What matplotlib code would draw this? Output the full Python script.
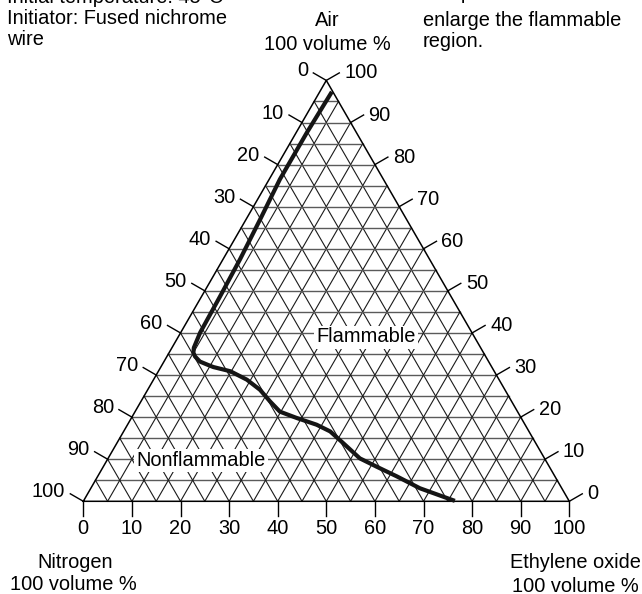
import numpy as np
import matplotlib.pyplot as plt

plt.rcParams['font.family'] = ['Liberation Sans', 'DejaVu Sans']
fs = 14.4

# Grenzkurve: Ethylenoxid %, Luft %
eo_curve = [2.5, 2.2, 2.2, 2.9, 3.5, 3.8, 4.0, 4.5, 5.0, 5.8, 7.4, 9.2, 10.8, 14.8,
            19.2, 23.1, 26.6, 29.8, 34.0, 38.9, 42.5, 46.6, 51.8, 56.3, 61.6, 67.7, 76.4]
air_curve = [97.3, 87.6, 76.5, 67.0, 57.5, 48.7, 40.1, 36.5, 35.3, 34.4, 33.2, 32.5, 31.9, 30.9,
             28.9, 26.5, 23.7, 21.3, 19.8, 18.2, 16.6, 13.8, 10.2, 8.2, 5.9, 3.1, 0.1]

tick_vals = [0, 10, 20, 30, 40, 50, 60, 70, 80, 90, 100]
grid_vals = np.arange(5, 100, 5)

left_text = ["Initial temperature: 45\u00b0C", "Initiator: Fused nichrome", "wire"]
right_text = ["Temp", "enlarge the flammable", "region."]


def xy(eo, air):
    eo = np.asarray(eo, dtype=float)
    air = np.asarray(air, dtype=float)
    return eo + air / 2, air * np.sqrt(3) / 2


W, H = 642, 594
fig = plt.figure(figsize=(W / 100, H / 100), dpi=100)
ax = fig.add_axes([0, 0, 1, 1])
# 4.86 px pro Einheit, Ecke links unten bei (83.3, 501.3) px
s = 4.86
ax.set_xlim(-83.3 / s, (W - 83.3) / s)
ax.set_ylim(-(H - 501.3) / s, 501.3 / s)
ax.axis('off')

# Gitter
for v in grid_vals:
    x, y = xy([0, 100 - v], [v, v])
    ax.plot(x, y, color='#5a5a5a', lw=1.0, zorder=1)
    x, y = xy([v, v], [0, 100 - v])
    ax.plot(x, y, color='#1a1a1a', lw=0.8, zorder=1)
    x, y = xy([100 - v, 0], [0, 100 - v])
    ax.plot(x, y, color='#1a1a1a', lw=0.8, zorder=1)

# Rand
x, y = xy([0, 100, 0, 0], [0, 0, 100, 0])
ax.plot(x, y, color='black', lw=1.1, zorder=2)

# Ticks + Beschriftung
tl = 15 / s
c30, s30 = np.cos(np.pi / 6), np.sin(np.pi / 6)
for v in tick_vals:
    # unten: Ethylenoxid
    x0, y0 = xy(v, 0)
    ax.plot([x0, x0], [y0, y0 - tl], color='black', lw=1.0)
    ax.annotate(str(v), (x0, y0 - tl), xytext=(0, -12), textcoords='offset pixels',
                ha='center', va='center', fontsize=fs)
    # rechts: Luft
    x0, y0 = xy(100 - v, v)
    x1, y1 = x0 + tl * c30, y0 + tl * s30
    ax.plot([x0, x1], [y0, y1], color='black', lw=1.0)
    ax.annotate(str(v), (x1, y1), xytext=(5, 0), textcoords='offset pixels',
                ha='left', va='center', fontsize=fs)
    # links: Stickstoff
    x0, y0 = xy(0, 100 - v)
    x1, y1 = x0 - tl * c30, y0 + tl * s30
    ax.plot([x0, x1], [y0, y1], color='black', lw=1.0)
    ax.annotate(str(v), (x1, y1), xytext=(-5, 2), textcoords='offset pixels',
                ha='right', va='center', fontsize=fs)

# Kurve
x, y = xy(eo_curve, air_curve)
ax.plot(x, y, color='#151515', lw=3.0, solid_capstyle='butt', solid_joinstyle='round', zorder=3)

box = dict(facecolor='white', edgecolor='none', pad=1.5)
fig.text(366 / W, 1 - 337 / H, "Flammable", ha='center', va='center', fontsize=fs, bbox=box, zorder=4)
fig.text(201 / W, 1 - 460 / H, "Nonflammable", ha='center', va='center', fontsize=fs, bbox=box, zorder=4)

# Ecken
fig.text(327 / W, 1 - 20 / H, "Air", ha='center', va='center', fontsize=fs)
fig.text(327 / W, 1 - 44 / H, "100 volume %", ha='center', va='center', fontsize=fs)
fig.text(75 / W, 1 - 563 / H, "Nitrogen", ha='center', va='center', fontsize=fs)
fig.text(73 / W, 1 - 585 / H, "100 volume %", ha='center', va='center', fontsize=fs)
fig.text(575 / W, 1 - 563 / H, "Ethylene oxide", ha='center', va='center', fontsize=fs)
fig.text(575 / W, 1 - 586 / H, "100 volume %", ha='center', va='center', fontsize=fs)

# Notizen oben (erste Zeile im Original abgeschnitten)
ybase_left = [3, 24, 45]
ybase_right = [-1, 26, 47]
for t, yb in zip(left_text, ybase_left):
    fig.text(7 / W, 1 - yb / H, t, ha='left', va='baseline', fontsize=fs)
for t, yb in zip(right_text, ybase_right):
    fig.text(423 / W, 1 - yb / H, t, ha='left', va='baseline', fontsize=fs)

fig.savefig('out.png', dpi=100)
